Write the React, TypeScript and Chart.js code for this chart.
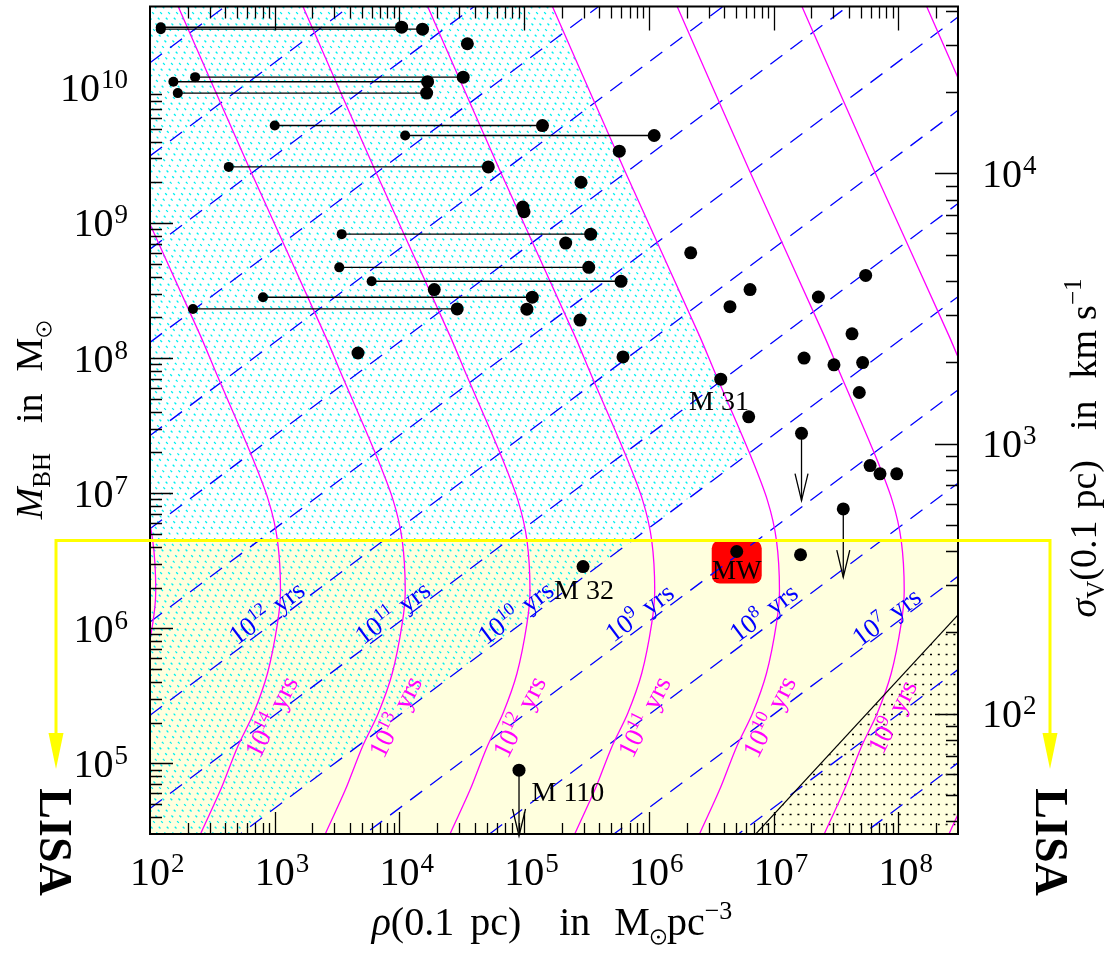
import { useEffect, useRef } from 'react';
import { Chart, registerables } from 'chart.js';

Chart.register(...registerables);

const W = 1104;
const H = 953;
const SERIF = '"Liberation Serif", "DejaVu Serif", serif';

// Axis ranges (rho in Msun/pc^3, black-hole mass in Msun)
const rhoRange = [1e2, 3e8];
const massRange = [3e4, 4e10];
const rhoTickExponents = [2, 3, 4, 5, 6, 7, 8];
const massTickExponents = [5, 6, 7, 8, 9, 10];
const sigmaTickExponents = [2, 3, 4];
// G / (0.1 pc) in (km/s)^2 per solar mass: sigma = sqrt(gOverR * M)
const gOverR = 0.043;

// Black holes with a low and a high density estimate at the same mass
const pairMass = [2.81e10, 2.72e10, 1.2e10, 1.11e10, 9.14e9, 5.26e9, 4.44e9, 2.6e9, 8.26e8, 4.69e8, 3.7e8, 2.82e8, 2.31e8];
const pairRhoLow = [122, 122, 230, 154, 167, 1.0e3, 1.11e4, 428, 3.44e3, 3.29e3, 5.98e3, 805, 221];
const pairRhoHigh = [1.04e4, 1.53e4, 3.24e4, 1.68e4, 1.65e4, 1.4e5, 1.1e6, 5.15e4, 3.41e5, 3.29e5, 5.97e5, 1.16e5, 2.9e4];

// Black holes with a single density estimate
const singleRho = [3.5e4, 5.78e5, 2.85e5, 9.73e4, 9.96e4, 2.15e5, 1.9e4, 1.05e5, 2.8e5, 4.65e3, 6.19e5, 2.16e6, 6.46e6, 4.46e6, 5.46e7, 2.28e7, 4.24e7, 1.75e7, 3.04e7, 5.16e7, 4.85e7, 3.76e6, 6.3e6, 5.92e7, 7.11e7, 9.68e7, 1.64e7, 2.96e5];
const singleMass = [2.12e10, 3.4e9, 2.0e9, 1.31e9, 1.21e9, 7.1e8, 3.21e8, 2.3e8, 1.91e8, 1.09e8, 1.02e8, 6.01e8, 3.21e8, 2.4e8, 4.09e8, 2.83e8, 1.51e8, 1.0e8, 8.91e7, 9.26e7, 5.56e7, 6.98e7, 3.67e7, 1.6e7, 1.39e7, 1.39e7, 3.5e6, 2.86e6];

// Milky Way
const mwRho = 5.05e6;
const mwMass = 3.7e6;
const mwLabelMass = 2.68e6;

// Upper limits on the mass
const limitRho = [1.67e7, 3.61e7, 9.08e4];
const limitMass = [2.77e7, 7.64e6, 8.91e4];
const limitTipMass = [8.81e6, 2.39e6, 2.9e4];

// Named galaxies
const namedText = ['M 31', 'M 32', 'M 110'];
const namedRho = [3.64e6, 3.01e5, 2.24e5];
const namedMass = [4.83e7, 1.91e6, 6.12e4];

// Relaxation-time lines (log10 t/yr), log10 M at the left and right ends of the rho range
const relaxExponents = [5, 6, 7, 8, 9, 10, 11, 12, 13, 14, 15, 16, 17, 18, 19];
const relaxLogMassLeft = [0.526, 1.216, 1.906, 2.596, 3.286, 3.976, 4.666, 5.356, 6.046, 6.736, 7.426, 8.116, 8.806, 9.496, 10.186];
const relaxLogMassRight = [5.004, 5.694, 6.384, 7.074, 7.764, 8.454, 9.144, 9.834, 10.524, 11.214, 11.904, 12.594, 13.284, 13.974, 14.664];

// Collision-time curves: shape of the 1e12 yr curve, others shifted in rho
const collisionExponents = [15, 14, 13, 12, 11, 10, 9, 8, 7];
const profileExponent = 12;
const profileLogRho = [3.106, 3.226, 3.804, 4.405, 4.533, 4.798, 4.95, 5.022, 5.046, 5.022, 4.942, 4.83, 4.701, 4.565, 4.405, 4.245];
const profileLogMass = [10.85, 10.602, 9.39, 8.164, 7.883, 7.314, 6.945, 6.649, 6.28, 6.036, 5.667, 5.371, 5.12, 4.802, 4.477, 4.137];

// Labels of the curves
const relaxLabelExp = [12, 11, 10, 9, 8, 7];
const relaxLabelRho = [867, 8.87e3, 8.59e4, 8.47e5, 8.36e6, 8.09e7];
const relaxLabelMass = [1.29e6, 1.29e6, 1.29e6, 1.29e6, 1.29e6, 1.2e6];
const collLabelExp = [14, 13, 12, 11, 10, 9];
const collLabelRho = [950, 9.38e3, 9.25e4, 9.29e5, 9.33e6, 9.04e7];
const collLabelMass = [2.2e5, 2.2e5, 2.2e5, 2.2e5, 2.2e5, 2.2e5];

// Unrelaxed region bounded by these two curves
const hatchCollisionExp = 10;
const hatchRelaxExp = 10;

// Black-hole mass equal to the stellar mass inside 0.1 pc
const clusterRho = [6.0e6, 3.0e8];
const clusterMass = [2.51e4, 1.257e6];

// LISA mass limit
const lisaMass = 4.5e6;

type Seg = { t?: string; font?: string; dy?: number; gap?: number; sun?: number };

function richWidth(ctx: CanvasRenderingContext2D, segs: Seg[]) {
  let w = 0;
  for (const s of segs) {
    if (s.gap) w += s.gap;
    else if (s.sun) w += s.sun * 2 + 3;
    else {
      ctx.font = s.font!;
      w += ctx.measureText(s.t!).width;
    }
  }
  return w;
}

function drawRich(ctx: CanvasRenderingContext2D, segs: Seg[], x: number, y: number, align: 'left' | 'center' | 'right') {
  const w = richWidth(ctx, segs);
  let cx = align === 'center' ? x - w / 2 : align === 'right' ? x - w : x;
  ctx.textAlign = 'left';
  ctx.textBaseline = 'alphabetic';
  for (const s of segs) {
    if (s.gap) {
      cx += s.gap;
      continue;
    }
    if (s.sun) {
      const r = s.sun;
      const cy = y + (s.dy || 0) - r;
      ctx.beginPath();
      ctx.arc(cx + r + 1.5, cy, r, 0, Math.PI * 2);
      ctx.lineWidth = 1.4;
      ctx.strokeStyle = ctx.fillStyle as string;
      ctx.stroke();
      ctx.beginPath();
      ctx.arc(cx + r + 1.5, cy, 1.5, 0, Math.PI * 2);
      ctx.fill();
      cx += r * 2 + 3;
      continue;
    }
    ctx.font = s.font!;
    ctx.fillText(s.t!, cx, y + (s.dy || 0));
    cx += ctx.measureText(s.t!).width;
  }
}

function drawPow(ctx: CanvasRenderingContext2D, exp: number, x: number, y: number, align: 'base' | 'left' | 'right') {
  const baseFont = `40px ${SERIF}`;
  const expFont = `27px ${SERIF}`;
  ctx.font = baseFont;
  const wb = ctx.measureText('10').width;
  ctx.font = expFont;
  const we = ctx.measureText(String(exp)).width;
  const start = align === 'base' ? x - wb / 2 : align === 'right' ? x - wb - 1 - we : x;
  ctx.textAlign = 'left';
  ctx.textBaseline = 'alphabetic';
  ctx.font = baseFont;
  ctx.fillText('10', start, y);
  ctx.font = expFont;
  ctx.fillText(String(exp), start + wb + 1, y - 13);
}

function yrsLabel(ctx: CanvasRenderingContext2D, exp: number, x: number, y: number, angle: number, color: string) {
  ctx.save();
  ctx.translate(x, y);
  ctx.rotate(angle);
  ctx.fillStyle = color;
  drawRich(
    ctx,
    [
      { t: '10', font: `27px ${SERIF}` },
      { t: String(exp), font: `18px ${SERIF}`, dy: -10 },
      { gap: 9 },
      { t: 'yrs', font: `27px ${SERIF}` },
    ],
    0,
    8,
    'center'
  );
  ctx.restore();
}

const backdropPlugin = {
  id: 'backdrop',
  beforeDraw(chart: any) {
    const ctx = chart.ctx as CanvasRenderingContext2D;
    ctx.save();
    ctx.fillStyle = '#ffffff';
    ctx.fillRect(0, 0, chart.width, chart.height);
    ctx.restore();
  },
  beforeDatasetsDraw(chart: any) {
    const ctx = chart.ctx as CanvasRenderingContext2D;
    const a = chart.chartArea;
    const sx = chart.scales.x;
    const sy = chart.scales.y;
    const px = (r: number, m: number) => ({ x: sx.getPixelForValue(r), y: sy.getPixelForValue(m) });
    const w = a.right - a.left;
    const h = a.bottom - a.top;

    ctx.save();
    // LISA band
    const yl = sy.getPixelForValue(lisaMass);
    ctx.fillStyle = '#ffffde';
    ctx.fillRect(a.left, yl, w, a.bottom - yl);

    // cyan hatching: left of collision curve and above relaxation line
    ctx.save();
    ctx.beginPath();
    ctx.rect(a.left, a.top, w, h);
    ctx.clip();
    const shift = profileExponent - hatchCollisionExp;
    const pts = profileLogRho.map((lr, i) => px(Math.pow(10, lr + shift), Math.pow(10, profileLogMass[i])));
    ctx.beginPath();
    pts.forEach((p, i) => (i ? ctx.lineTo(p.x, p.y) : ctx.moveTo(p.x, p.y)));
    ctx.lineTo(a.left - 30, pts[pts.length - 1].y);
    ctx.lineTo(a.left - 30, pts[0].y);
    ctx.closePath();
    ctx.clip();
    const k = relaxExponents.indexOf(hatchRelaxExp);
    const l1 = px(rhoRange[0], Math.pow(10, relaxLogMassLeft[k]));
    const l2 = px(rhoRange[1], Math.pow(10, relaxLogMassRight[k]));
    ctx.beginPath();
    ctx.moveTo(l1.x, l1.y);
    ctx.lineTo(l2.x, l2.y);
    ctx.lineTo(l2.x, a.top - 30);
    ctx.lineTo(l1.x, a.top - 30);
    ctx.closePath();
    ctx.clip();
    ctx.strokeStyle = '#00f0f0';
    ctx.lineWidth = 1.3;
    ctx.setLineDash([2.5, 5.5]);
    ctx.beginPath();
    for (let c = -h; c < w; c += 8) {
      ctx.moveTo(a.left + c, a.top);
      ctx.lineTo(a.left + c + h, a.top + h);
    }
    ctx.stroke();
    ctx.restore();

    // dotted region below the stellar-mass line
    ctx.save();
    ctx.beginPath();
    ctx.rect(a.left, a.top, w, h);
    ctx.clip();
    const c1 = px(clusterRho[0], clusterMass[0]);
    const c2 = px(clusterRho[1], clusterMass[1]);
    ctx.beginPath();
    ctx.moveTo(c1.x, c1.y);
    ctx.lineTo(c2.x, c2.y);
    ctx.lineTo(c2.x + 30, c2.y);
    ctx.lineTo(c2.x + 30, c1.y + 30);
    ctx.lineTo(c1.x, c1.y + 30);
    ctx.closePath();
    ctx.clip();
    ctx.strokeStyle = '#000';
    ctx.lineWidth = 1.3;
    ctx.setLineDash([2, 5.8]);
    ctx.beginPath();
    for (let y = a.bottom - 10; y > a.top; y -= 10) {
      ctx.moveTo(a.left, y + 0.5);
      ctx.lineTo(a.right, y + 0.5);
    }
    ctx.stroke();
    ctx.restore();

    // Milky Way box
    const mw = px(mwRho, mwMass);
    ctx.fillStyle = '#ff0000';
    ctx.beginPath();
    ctx.roundRect(mw.x - 25, mw.y - 11, 50, 43, 8);
    ctx.fill();
    ctx.restore();
  },
  afterDatasetsDraw(chart: any) {
    const ctx = chart.ctx as CanvasRenderingContext2D;
    const sx = chart.scales.x;
    const sy = chart.scales.y;
    const px = (r: number, m: number) => ({ x: sx.getPixelForValue(r), y: sy.getPixelForValue(m) });
    ctx.save();
    // arrow heads on upper limits
    ctx.strokeStyle = '#000';
    ctx.lineWidth = 1.3;
    limitRho.forEach((r, i) => {
      const t = px(r, limitTipMass[i]);
      ctx.beginPath();
      ctx.moveTo(t.x - 6.5, t.y - 27);
      ctx.lineTo(t.x, t.y);
      ctx.lineTo(t.x + 6.5, t.y - 27);
      ctx.stroke();
    });
    // curve labels
    relaxLabelExp.forEach((e, i) => {
      const p = px(relaxLabelRho[i], relaxLabelMass[i]);
      yrsLabel(ctx, e, p.x, p.y, -Math.atan(0.75), '#0000ff');
    });
    collLabelExp.forEach((e, i) => {
      const p = px(collLabelRho[i], collLabelMass[i]);
      yrsLabel(ctx, e, p.x, p.y, -1.107, '#ff00ff');
    });
    // galaxy names
    ctx.fillStyle = '#000';
    namedText.forEach((t, i) => {
      const p = px(namedRho[i], namedMass[i]);
      drawRich(ctx, [{ t, font: `28px ${SERIF}` }], p.x, p.y + 9, 'center');
    });
    const mwl = px(mwRho, mwLabelMass);
    drawRich(ctx, [{ t: 'MW', font: `27px ${SERIF}` }], mwl.x, mwl.y + 9, 'center');
    ctx.restore();
  },
  afterDraw(chart: any) {
    const ctx = chart.ctx as CanvasRenderingContext2D;
    const a = chart.chartArea;
    const sx = chart.scales.x;
    const sy = chart.scales.y;
    const ss = chart.scales.sigma;
    ctx.save();
    ctx.strokeStyle = '#000';
    ctx.fillStyle = '#000';

    // ticks
    ctx.lineWidth = 1.3;
    ctx.beginPath();
    const sMin = Math.sqrt(gOverR * massRange[0]);
    const sMax = Math.sqrt(gOverR * massRange[1]);
    for (let d = 1; d <= 9; d++) {
      for (let m = 1; m <= 9; m++) {
        const v = m * Math.pow(10, d);
        if (v > rhoRange[0] * 1.001 && v < rhoRange[1] * 0.999) {
          const x = Math.round(sx.getPixelForValue(v)) + 0.5;
          ctx.moveTo(x, a.bottom);
          ctx.lineTo(x, a.bottom - (m === 1 ? 22 : 11));
          ctx.moveTo(x, a.top);
          ctx.lineTo(x, a.top + (m === 1 ? 24 : 12));
        }
        if (v > massRange[0] * 1.001 && v < massRange[1] * 0.999) {
          const y = Math.round(sy.getPixelForValue(v)) + 0.5;
          ctx.moveTo(a.left, y);
          ctx.lineTo(a.left + (m === 1 ? 23 : 12), y);
        }
        if (v > sMin * 1.001 && v < sMax * 0.999) {
          const y = Math.round(ss.getPixelForValue(v)) + 0.5;
          ctx.moveTo(a.right, y);
          ctx.lineTo(a.right - (m === 1 ? 23 : 12), y);
        }
      }
    }
    ctx.stroke();

    // frame
    ctx.lineWidth = 2;
    ctx.strokeRect(a.left, a.top, a.right - a.left, a.bottom - a.top);

    // tick labels
    rhoTickExponents.forEach((e) => drawPow(ctx, e, sx.getPixelForValue(Math.pow(10, e)), 885, 'base'));
    massTickExponents.forEach((e) => drawPow(ctx, e, 128, sy.getPixelForValue(Math.pow(10, e)) + 13.5, 'right'));
    sigmaTickExponents.forEach((e) => drawPow(ctx, e, 982, ss.getPixelForValue(Math.pow(10, e)) + 13.5, 'left'));

    // axis titles
    const f = `38px ${SERIF}`;
    const fi = `italic 38px ${SERIF}`;
    const fs = `25px ${SERIF}`;
    const fx = `40px ${SERIF}`;
    drawRich(
      ctx,
      [
        { t: 'ρ', font: `italic 40px ${SERIF}` },
        { t: '(0.1', font: fx },
        { gap: 16 },
        { t: 'pc)', font: fx },
        { gap: 38 },
        { t: 'in', font: fx },
        { gap: 24 },
        { t: 'M', font: fx },
        { sun: 7, dy: 9 },
        { t: 'pc', font: fx },
        { t: '−3', font: `26px ${SERIF}`, dy: -16 },
      ],
      (a.left + a.right) / 2 - 2,
      935,
      'center'
    );

    ctx.save();
    ctx.translate(42, 420);
    ctx.rotate(-Math.PI / 2);
    drawRich(
      ctx,
      [
        { t: 'M', font: fi },
        { t: 'BH', font: fs, dy: 8 },
        { gap: 30 },
        { t: 'in', font: f },
        { gap: 22 },
        { t: 'M', font: f },
        { sun: 7, dy: 9 },
      ],
      0,
      0,
      'center'
    );
    ctx.restore();

    ctx.save();
    ctx.translate(1096, 448);
    ctx.rotate(-Math.PI / 2);
    drawRich(
      ctx,
      [
        { t: 'σ', font: fi },
        { t: 'V', font: fs, dy: 8 },
        { t: '(0.1', font: f },
        { gap: 12 },
        { t: 'pc)', font: f },
        { gap: 30 },
        { t: 'in', font: f },
        { gap: 22 },
        { t: 'km', font: f },
        { gap: 10 },
        { t: 's', font: f },
        { t: '−1', font: fs, dy: -15 },
      ],
      0,
      0,
      'center'
    );
    ctx.restore();

    // LISA band edge with arrows
    const yl = Math.round(sy.getPixelForValue(lisaMass)) + 0.5;
    const xl = 56;
    const xr = 1050;
    ctx.strokeStyle = '#ffff00';
    ctx.fillStyle = '#ffff00';
    ctx.lineWidth = 3;
    ctx.beginPath();
    ctx.moveTo(xl, 736);
    ctx.lineTo(xl, yl);
    ctx.lineTo(xr, yl);
    ctx.lineTo(xr, 736);
    ctx.stroke();
    [xl, xr].forEach((x) => {
      ctx.beginPath();
      ctx.moveTo(x - 7.5, 733);
      ctx.lineTo(x + 7.5, 733);
      ctx.lineTo(x, 769);
      ctx.closePath();
      ctx.fill();
    });

    ctx.fillStyle = '#000';
    [54, 1050].forEach((x) => {
      ctx.save();
      ctx.translate(x, 842);
      ctx.rotate(Math.PI / 2);
      ctx.font = `bold 46px ${SERIF}`;
      ctx.textAlign = 'center';
      ctx.textBaseline = 'middle';
      ctx.fillText('LISA', 0, 2);
      ctx.restore();
    });
    ctx.restore();
  },
};

export default function App() {
  const ref = useRef<HTMLCanvasElement>(null);

  useEffect(() => {
    const canvas = ref.current;
    if (!canvas) return;

    const datasets: any[] = [];

    datasets.push({
      type: 'line',
      data: [...singleRho.map((r, i) => ({ x: r, y: singleMass[i] })), { x: mwRho, y: mwMass }],
      showLine: false,
      pointRadius: 6.5,
      pointBorderWidth: 0,
      pointBackgroundColor: '#000',
      order: 0,
    });

    pairMass.forEach((m, i) => {
      datasets.push({
        type: 'line',
        data: [
          { x: pairRhoLow[i], y: m },
          { x: pairRhoHigh[i], y: m },
        ],
        borderColor: '#000',
        borderWidth: 1.4,
        pointRadius: [5, 6.5],
        pointBorderWidth: 0,
        pointBackgroundColor: '#000',
        order: 1,
      });
    });

    limitRho.forEach((r, i) => {
      datasets.push({
        type: 'line',
        data: [
          { x: r, y: limitMass[i] },
          { x: r, y: limitTipMass[i] },
        ],
        borderColor: '#000',
        borderWidth: 1.3,
        pointRadius: [6.5, 0],
        pointBorderWidth: 0,
        pointBackgroundColor: '#000',
        order: 1,
      });
    });

    datasets.push({
      type: 'line',
      data: clusterRho.map((r, i) => ({ x: r, y: clusterMass[i] })),
      borderColor: '#000',
      borderWidth: 1.2,
      pointRadius: 0,
      order: 2,
      clip: 0,
    });

    collisionExponents.forEach((e) => {
      datasets.push({
        type: 'line',
        data: profileLogRho.map((lr, j) => ({
          x: Math.pow(10, lr + profileExponent - e),
          y: Math.pow(10, profileLogMass[j]),
        })),
        borderColor: '#ff00ff',
        borderWidth: 1.3,
        tension: 0.3,
        pointRadius: 0,
        order: 3,
        clip: 0,
      });
    });

    relaxExponents.forEach((e, i) => {
      datasets.push({
        type: 'line',
        data: [
          { x: rhoRange[0], y: Math.pow(10, relaxLogMassLeft[i]) },
          { x: rhoRange[1], y: Math.pow(10, relaxLogMassRight[i]) },
        ],
        borderColor: '#0000ff',
        borderWidth: 1.3,
        borderDash: [15, 10],
        pointRadius: 0,
        order: 4,
        clip: 0,
      });
    });

    const chart = new Chart(canvas, {
      type: 'line',
      data: { datasets },
      options: {
        animation: false,
        responsive: false,
        devicePixelRatio: 1,
        events: [],
        layout: { padding: { left: 150, right: W - 958, top: 5, bottom: H - 834 } },
        elements: { line: { capBezierPoints: false } },
        plugins: { legend: { display: false }, tooltip: { enabled: false } },
        scales: {
          x: { type: 'logarithmic', min: rhoRange[0], max: rhoRange[1], display: false },
          y: { type: 'logarithmic', min: massRange[0], max: massRange[1], display: false },
          sigma: {
            type: 'logarithmic',
            position: 'right',
            min: Math.sqrt(gOverR * massRange[0]),
            max: Math.sqrt(gOverR * massRange[1]),
            display: false,
          },
        },
      } as any,
      plugins: [backdropPlugin],
    });

    return () => chart.destroy();
  }, []);

  return (
    <div style={{ position: 'fixed', left: 0, top: 0, width: W, height: H, background: '#fff' }}>
      <canvas ref={ref} width={W} height={H} style={{ width: W, height: H, display: 'block' }} />
    </div>
  );
}
